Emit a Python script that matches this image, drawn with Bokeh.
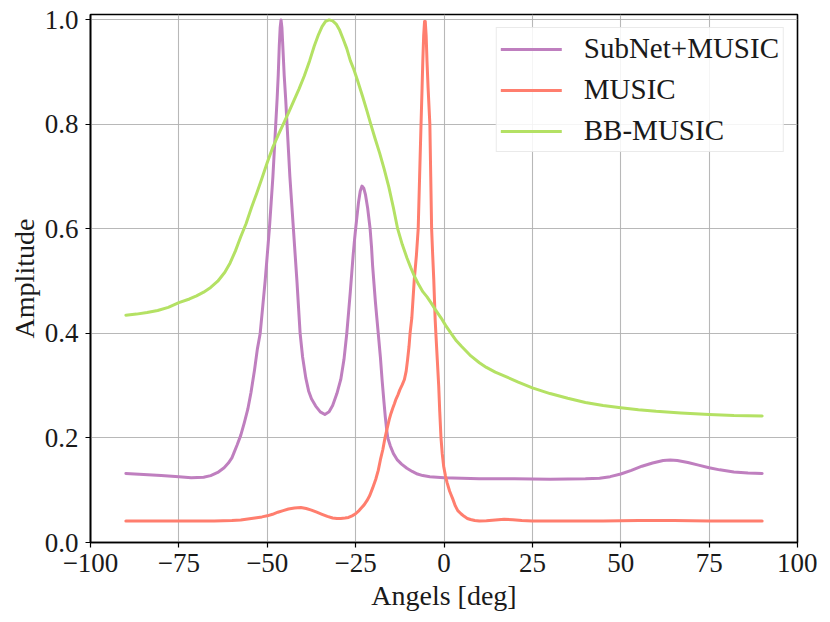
from bokeh.plotting import figure
from bokeh.models import Range1d, FixedTicker, Legend, LegendItem
from bokeh.embed import file_html
from bokeh.resources import INLINE

# ---- data ----
subnet_x = [-90, -85, -80, -75, -71.5, -68, -66, -64, -62.2, -61, -60, -59.4, -58.5, -57.5, -56.5,
            -55.5, -54.6, -53.6, -52.8, -52.0, -51.3, -50.6, -50.0, -49.4, -48.9, -48.4, -48.0,
            -47.6, -47.2, -46.9, -46.6, -46.35, -46.1, -45.85, -45.6, -45.2, -44.8, -44.4, -44.0,
            -43.6, -43.1, -42.6, -42.1, -41.6, -41.15, -40.7, -40.0, -39.1, -38.3, -37.5, -36.3,
            -35.0, -33.7, -32.5, -31.5, -30.3, -29.2, -28.3, -27.5, -27.0, -26.5, -26.1, -25.7,
            -25.3, -25.0, -24.6, -24.2, -23.7, -23.2, -22.7, -22.2, -21.6, -20.9, -20.5, -20.2,
            -19.8, -19.4, -19.0, -18.6, -18.0, -17.5, -17.0, -16.6, -16.2, -15.9, -15.2, -14.3,
            -13.2, -12.0, -10.5, -9.0, -7.5, -6.0, -4.0, -2.0, 0, 5, 10, 20, 30, 40, 44, 47, 50,
            53, 56, 59, 62, 64, 66, 69, 72, 75, 78, 82, 86, 90]
subnet_y = [0.132, 0.130, 0.128, 0.126, 0.124, 0.125, 0.128, 0.134, 0.143, 0.152, 0.162, 0.172,
            0.187, 0.205, 0.229, 0.255, 0.287, 0.33, 0.37, 0.40, 0.45, 0.50, 0.55, 0.60, 0.65,
            0.70, 0.75, 0.80, 0.85, 0.893, 0.95, 0.985, 1.0, 0.985, 0.95, 0.893, 0.85, 0.80, 0.75,
            0.70, 0.65, 0.60, 0.55, 0.50, 0.45, 0.40, 0.355, 0.315, 0.29, 0.275, 0.261,
            0.25, 0.245, 0.25, 0.262, 0.285, 0.312, 0.35, 0.40, 0.44, 0.48, 0.515, 0.55,
            0.58, 0.60, 0.625, 0.65, 0.672, 0.682, 0.678, 0.665, 0.64, 0.60, 0.565, 0.53,
            0.495, 0.46, 0.43, 0.40, 0.355, 0.31, 0.27, 0.24, 0.215, 0.20, 0.185, 0.17,
            0.158, 0.15, 0.142, 0.136, 0.131, 0.128, 0.126, 0.125, 0.124, 0.123, 0.122, 0.122,
            0.121, 0.122, 0.123, 0.126, 0.131, 0.138, 0.146, 0.152, 0.157, 0.158, 0.157, 0.153,
            0.148, 0.143, 0.139, 0.135, 0.133, 0.132]

music_x = [-90, -75, -65, -60, -57.5, -55.5, -53.5, -51.5, -50, -48.5, -47, -45.5, -44, -42.3,
           -40.5, -39, -37.5, -36, -34.5, -33, -31.5, -30.3, -29.2, -28, -27, -26, -25, -24.2,
           -23.4, -22.6, -21.8, -21, -20.2, -19.3, -18.6, -18, -17.3, -16.7, -16.1, -15.5, -15,
           -14.5, -14, -13.6, -13, -12.5, -11.8, -11.2, -10.7, -10.3, -9.9, -9.6, -9.1, -8.4,
           -7.8, -7.3, -6.9, -6.5, -6.2, -6.0, -5.75, -5.5, -5.3, -5.05, -4.8, -4.5, -4.0,
           -3.75, -3.5, -3.2, -2.9, -2.5, -2.3, -1.9, -1.5, -1.2, -0.85, -0.5, -0.1, 0.4, 0.85,
           1.6, 2.5, 3.2, 3.9, 4.8, 5.7, 6.6, 7.5, 8.7, 10, 12, 14.5, 17, 19.5, 22, 25, 35, 45,
           55, 65, 75, 90]
music_y = [0.041, 0.041, 0.041, 0.042, 0.043, 0.045, 0.047, 0.049, 0.051, 0.054, 0.058, 0.061,
           0.064, 0.066, 0.067, 0.065, 0.062, 0.058, 0.054, 0.050, 0.047, 0.046, 0.046, 0.047,
           0.048, 0.051, 0.055, 0.060, 0.066, 0.072, 0.080, 0.090, 0.104, 0.121, 0.138, 0.158,
           0.178, 0.20, 0.218, 0.235, 0.247, 0.257, 0.266, 0.274, 0.283, 0.292, 0.302, 0.312,
           0.328, 0.35, 0.375, 0.40, 0.43, 0.504, 0.55, 0.60, 0.70, 0.80, 0.87, 0.92, 0.97,
           0.997, 0.997, 0.97, 0.92, 0.87, 0.80, 0.70, 0.60, 0.55, 0.504, 0.427, 0.40, 0.35,
           0.30, 0.25, 0.20, 0.17, 0.146, 0.128, 0.115, 0.098, 0.083, 0.070, 0.061, 0.055,
           0.050, 0.046, 0.044, 0.042, 0.041, 0.0415, 0.043, 0.0445, 0.0435, 0.042, 0.041,
           0.041, 0.041, 0.042, 0.042, 0.041, 0.041]

bb_x = [-90, -87, -84, -81, -78, -75, -72, -70, -68, -66, -64, -62, -60.5, -59, -57.5, -56, -54.5,
        -53, -51.5, -50, -48.5, -47, -45.5, -44, -42.5, -41, -39.5, -38, -36.7, -35.5, -34.5,
        -33.5, -32.5, -31.5, -30.5, -29.5, -28.5, -27.5, -26.5, -25.5, -24.5, -23, -21.8, -20.7,
        -19.5, -18.2, -16.9, -15.6, -14.3, -13.1, -11.8, -10.5, -9.4, -8.4, -7.2, -6, -4.8, -3.7,
        -2.3, -0.85, 0.5, 2, 3.5, 5, 7.6, 10, 12, 14.5, 17, 21, 25, 30, 35, 40, 45, 50, 55, 60,
        67, 75, 82, 90]
bb_y = [0.435, 0.437, 0.440, 0.444, 0.450, 0.459, 0.466, 0.472, 0.479, 0.488, 0.500, 0.517,
        0.535, 0.558, 0.585, 0.610, 0.640, 0.668, 0.697, 0.727, 0.755, 0.778, 0.800, 0.822,
        0.845, 0.868, 0.893, 0.922, 0.950, 0.972, 0.987, 0.997, 1.0, 0.998, 0.992, 0.980,
        0.963, 0.945, 0.922, 0.905, 0.885, 0.853, 0.826, 0.800, 0.773, 0.745, 0.714, 0.680,
        0.640, 0.600, 0.570, 0.545, 0.526, 0.510, 0.494, 0.480, 0.470, 0.459, 0.444, 0.430,
        0.415, 0.400, 0.386, 0.375, 0.357, 0.344, 0.335, 0.326, 0.319, 0.307, 0.296, 0.285,
        0.276, 0.268, 0.262, 0.258, 0.254, 0.251, 0.248, 0.245, 0.243, 0.242]

series_names = ["SubNet+MUSIC", "MUSIC", "BB-MUSIC"]
series_colors = ["#BF7FBF", "#FF7E6E", "#B4E164"]

x_ticks = [-100, -75, -50, -25, 0, 25, 50, 75, 100]
x_tick_labels = ["\u2212100", "\u221275", "\u221250", "\u221225", "0", "25", "50", "75", "100"]
y_ticks = [0.0, 0.2, 0.4, 0.6, 0.8, 1.0]
y_tick_labels = ["0.0", "0.2", "0.4", "0.6", "0.8", "1.0"]

FONT = "Liberation Serif"
TEXT_COLOR = "#1a1a1a"

p = figure(frame_width=707, frame_height=528, output_backend="svg", toolbar_location=None,
           x_range=Range1d(-100, 100), y_range=Range1d(0, 1.0103),
           min_border_left=90, min_border_right=20, min_border_top=14, min_border_bottom=60)

p.background_fill_color = "white"
p.border_fill_color = "white"
p.outline_line_color = "black"
p.outline_line_width = 1.6

for ax, ticks, labels in ((p.xaxis[0], x_ticks, x_tick_labels), (p.yaxis[0], y_ticks, y_tick_labels)):
    ax.ticker = FixedTicker(ticks=ticks)
    ax.major_label_overrides = {t: l for t, l in zip(ticks, labels)}
    ax.minor_tick_line_color = None
    ax.major_tick_in = 0
    ax.major_tick_out = 5
    ax.major_tick_line_color = "black"
    ax.major_tick_line_width = 1.2
    ax.axis_line_color = "black"
    ax.axis_line_width = 1.6
    ax.major_label_text_font = FONT
    ax.major_label_text_font_size = "27px"
    ax.major_label_text_color = TEXT_COLOR
    ax.axis_label_text_font = FONT
    ax.axis_label_text_font_size = "28px"
    ax.axis_label_text_font_style = "normal"
    ax.axis_label_text_color = TEXT_COLOR

p.xaxis.axis_label = "Angels [deg]"
p.yaxis.axis_label = "Amplitude"
p.xaxis.major_label_standoff = 6
p.yaxis.major_label_standoff = 7
p.xaxis.axis_label_standoff = 5
p.yaxis.axis_label_standoff = 2

p.xgrid.ticker = FixedTicker(ticks=x_ticks)
p.ygrid.ticker = FixedTicker(ticks=y_ticks)
for g in (p.xgrid[0], p.ygrid[0]):
    g.grid_line_color = "#b0b0b0"
    g.grid_line_width = 1.1
    g.grid_line_alpha = 0.9

renderers = []
for xs, ys, col in ((subnet_x, subnet_y, series_colors[0]),
                    (music_x, music_y, series_colors[1]),
                    (bb_x, bb_y, series_colors[2])):
    r = p.line(xs, ys, line_color=col, line_width=3, line_join="round", line_cap="round")
    renderers.append(r)

legend = Legend(items=[LegendItem(label=n, renderers=[r]) for n, r in zip(series_names, renderers)],
                location="top_right")
legend.margin = 13
legend.padding = 4
legend.spacing = 8
legend.glyph_width = 61
legend.glyph_height = 32
legend.label_height = 32
legend.label_standoff = 22
legend.label_text_font = FONT
legend.label_text_font_size = "29px"
legend.label_text_color = TEXT_COLOR
legend.border_line_color = "#d6d6d6"
legend.border_line_width = 1.5
legend.background_fill_color = "white"
legend.background_fill_alpha = 0.85
p.add_layout(legend)

open("out.html", "w").write(file_html(p, INLINE))
